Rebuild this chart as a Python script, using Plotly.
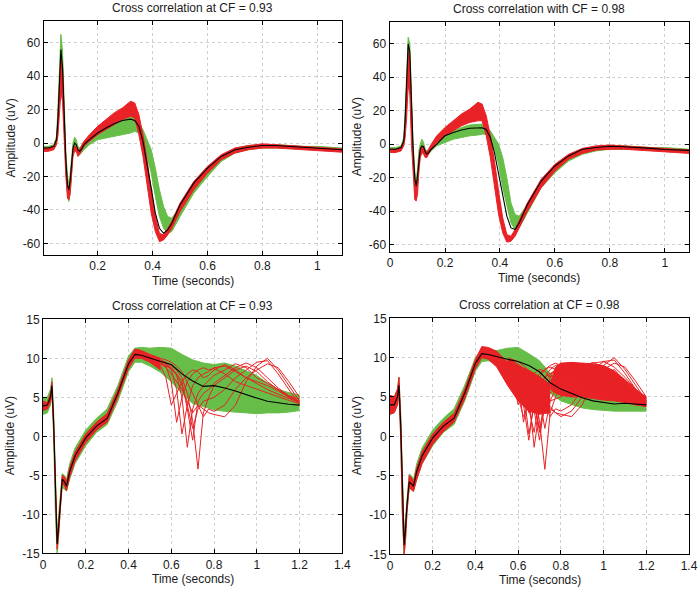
import plotly.graph_objects as go

# ---------------- DATA ----------------
# Top panels time grid (seconds)
t_top = [0.0, 0.02, 0.04, 0.05, 0.055, 0.06, 0.066, 0.072, 0.078, 0.084, 0.09, 0.095, 0.1, 0.105, 0.11,
         0.116, 0.122, 0.128, 0.134, 0.14, 0.15, 0.17, 0.2, 0.23, 0.26, 0.29, 0.32, 0.335, 0.35, 0.365,
         0.38, 0.395, 0.41, 0.425, 0.44, 0.455, 0.47, 0.5, 0.55, 0.6, 0.65, 0.7, 0.75, 0.8, 0.85, 0.9,
         0.95, 1.0, 1.05, 1.09]

# Top-left (CF = 0.93)
tl_mean = [-3, -3, -2, 2, 14, 35, 56, 45, 15, -10, -25, -28, -22, -10, -3,
           0, -1, -4, -5, -4, -1, 2, 6, 9, 11.5, 13.5, 14.3, 13.5, 10, 1,
           -12, -27, -42, -51, -54, -52, -48, -37, -24, -15, -8, -4, -2.5, -1.5, -1.5, -2,
           -2.5, -3, -3.5, -4]
tl_green_hi = [-2, -2, -1, 4, 20, 45, 65, 55, 22, -5, -20, -25, -18, -6, 0,
               3.5, 2, -2, -3, -2, 1, 4, 7, 10, 12, 14, 16, 16, 12, 8,
               2, -4, -15, -28, -38, -44, -45, -38, -26, -16, -8, -3, -1.5, -1, -1, -1.5,
               -2, -2, -2.5, -3]
tl_green_lo = [-4, -4, -3, 0, 8, 28, 50, 35, 8, -15, -30, -35, -30, -15, -6,
               -2, -3, -6, -7, -6, -4, -1, 2, 3, 4, 5, 6, 7, 6, 2,
               -8, -18, -32, -44, -51, -54, -53, -44, -30, -20, -11, -6, -4, -3, -3, -3,
               -3.5, -4, -4.5, -5]
tl_red_hi = [-3, -3, -2, 2, 12, 30, 52, 45, 15, -10, -25, -28, -22, -10, -4,
             -2, -2, -4, -4, -2, 1, 5, 10, 14, 18, 21, 25, 24, 17, 5,
             -10, -28, -44, -54, -55, -51, -47, -36, -23, -14, -7, -3, -1.5, -0.5, -1, -1.5,
             -2, -2.5, -3, -3.5]
tl_red_lo = [-5, -5, -4, -1, 4, 15, 30, 25, 0, -20, -33, -34, -30, -18, -8,
             -5, -5, -8, -7, -5, -2, 1, 5, 8, 11, 14, 16, 15, 5, -8,
             -25, -42, -53, -59, -58, -55, -51, -41, -28, -18, -10, -6, -4, -3, -3, -3.5,
             -4, -4.5, -5, -5.5]

# Top-right (CF = 0.98)
tr_mean = [-3, -3, -2, 2, 15, 38, 60, 55, 25, -3, -20, -25, -19, -8, -3,
           -1, -1.5, -4.5, -6, -5, -3, 0, 5, 7, 8.5, 9.5, 9.8, 9.8, 8.8, 4,
           -5, -17, -31, -43, -50, -51, -47, -36, -22, -13, -7, -3, -2, -1.2, -1.5, -1.8,
           -2.5, -3.2, -3.5, -3.7]
tr_green_hi = [-2, -2, -1, 4, 20, 45, 64, 60, 30, 0, -16, -22, -15, -4, 0,
               3, 1, -3, -4, -3, -1, 2, 6, 8, 10, 11.5, 12, 12, 10, 8,
               4, 0, -8, -20, -35, -42, -43, -36, -23, -14, -7, -3, -1.5, -1, -1, -1.5,
               -2, -2, -2.5, -3]
tr_green_lo = [-4, -4, -3, 0, 10, 30, 52, 45, 15, -8, -24, -28, -24, -12, -6,
               -2, -3, -6, -7, -6, -4, -1, 1, 3, 4, 5, 5.5, 6, 6, 4,
               -3, -12, -26, -37, -47, -51, -50, -41, -26, -17, -10, -6, -4, -3, -3, -3,
               -3.5, -4, -4.5, -5]
tr_red_hi = [-3, -3, -2, 2, 12, 30, 56, 50, 18, -8, -24, -27, -20, -8, -3,
             -1, -2, -4, -5, -3, 0, 5, 10, 14, 18, 21, 25, 24, 17, 5,
             -10, -28, -44, -54, -55, -51, -46, -35, -21, -12, -6, -2.5, -1, -0.5, -1, -1.5,
             -2, -2.5, -3, -3.5]
tr_red_lo = [-5, -5, -4, -1, 4, 15, 35, 30, 0, -20, -33, -34, -30, -16, -8,
             -5, -6, -8, -8, -6, -3, 1, 5, 8, 11, 13, 14, 14, 5, -8,
             -25, -42, -53, -58.5, -58, -55, -50, -40, -26, -16, -9, -5.5, -3.5, -3, -3, -3.5,
             -4, -4.5, -5, -5.5]

# Bottom panels time grid (seconds)
t_bot = [0.0, 0.02, 0.035, 0.042, 0.05, 0.058, 0.066, 0.072, 0.08, 0.09, 0.1, 0.11, 0.125, 0.15,
         0.2, 0.25, 0.3, 0.35, 0.4, 0.43, 0.46, 0.5, 0.55, 0.6, 0.65, 0.7, 0.75, 0.8, 0.85, 0.9,
         0.95, 1.0, 1.05, 1.1, 1.15, 1.2]

# Bottom-left (CF = 0.93)
bl_mean = [3.9, 4.0, 5.0, 6.5, 1.5, -8, -13.8, -12, -8.5, -5.5, -5.8, -6.4, -4.5, -2.5,
           -0.2, 1.3, 2.3, 5.5, 9.3, 10.5, 10.4, 10.0, 9.6, 9.2, 8.0, 7.1, 6.4, 6.5, 6.2, 5.8,
           5.3, 4.9, 4.5, 4.3, 4.1, 4.0]
bl_green_hi = [5, 5, 6, 7.5, 3, -6, -12.5, -10.5, -7.5, -4.8, -5, -5.5, -3.5, -1.5,
               0.8, 2.3, 3.5, 6.5, 10.3, 11.3, 11.4, 11.3, 11.4, 11.3, 10.5, 9.8, 9.4, 9.2, 9.4, 9.0,
               8.4, 7.8, 6.8, 6.0, 5.6, 5.3]
bl_green_lo = [2.8, 3, 4, 5.5, 0, -10, -15, -13.5, -9.5, -6.5, -6.8, -7, -5.5, -3.5,
               -1.2, 0.5, 1.5, 4.5, 8.3, 9.5, 9.5, 9.0, 8.2, 7.0, 5.5, 4.2, 3.8, 3.4, 3.2, 3.1,
               3.0, 2.9, 3.0, 3.0, 3.1, 3.3]
bl_red_hi = [4.5, 4.3, 5.5, 7.0, 2, -7.5, -13, -11.5, -8, -5, -5.2, -5.8, -4, -2,
             0.3, 1.8, 2.9, 6, 9.8, 11.2, 11, 10.5, 10]
bl_red_lo = [3.3, 3.5, 4.3, 5.8, 0.5, -9, -14.5, -13, -9.2, -6, -6.3, -7, -5.2, -3.2,
             -0.8, 0.8, 1.8, 5, 8.7, 10, 10, 9.5, 8.5]

# Individual red trials after 0.55 s
t_red = [0.55, 0.575, 0.6, 0.625, 0.65, 0.675, 0.7, 0.725, 0.75, 0.775, 0.8, 0.85, 0.9, 0.95,
         1.0, 1.05, 1.1, 1.15, 1.2]
red_trials_shared = [
    [9.5, 9, 7, 1.8, 5, 7, 8, 8.5, 8.8, 8.5, 8.7, 8, 7, 6.5, 6, 5.5, 5, 4.6, 4.2],
    [9.7, 9.3, 8.5, 6, 0.3, 4, 6.5, 7.5, 8, 8.3, 8.8, 9, 8.3, 7.5, 6.8, 6, 5.4, 4.8, 4.3],
    [9.2, 9, 8.7, 7.8, 5, -1.4, 3.5, 5.5, 6.5, 7.2, 7.8, 8.5, 9.3, 8.8, 7.5, 6.8, 6, 5, 4.5],
    [9.8, 9.5, 9, 8.5, 7.5, 5.5, 2, -4.2, 3, 5, 6.5, 7.5, 8.5, 9, 8.3, 7, 6, 5.2, 4.5],
    [9.3, 8.8, 8, 7, 6, 4.5, 3, 4, 3.5, 3, 2.8, 2.5, 4, 7, 9, 10, 8.5, 6.5, 4.5],
    [9.6, 9.4, 8.8, 8, 6.5, 4, 1, 3.5, 4.5, 4.8, 5, 6, 7.5, 8.5, 9.5, 9.7, 8, 6, 4],
    [9, 7.5, 4, 5.5, 7, 8, 8.5, 8.3, 7.5, 7.8, 8.5, 9.2, 8.5, 7.5, 7, 6.5, 5.8, 5, 4.3],
    [10, 9.8, 9.5, 9, 8.3, 7, 5.5, 4, 2.5, 3.5, 3.2, 4, 6, 7.5, 8.5, 9.3, 8.8, 7, 5],
    [9.4, 9.1, 8.6, 8, 7, 3.5, -0.5, 4.5, 5.5, 6, 6.8, 7.8, 8.8, 9.4, 8.8, 7.5, 6.2, 5.2, 4.8],
]

# Bottom-right (CF = 0.98)
br_mean = [4, 4, 5, 6.5, 1.5, -8, -13.8, -12, -8.5, -5.8, -6, -6.3, -4.5, -2.5,
           -0.2, 1.3, 2.3, 5.5, 9.3, 10.5, 10.4, 10.1, 9.8, 9.5, 9.0, 8.2, 6.8, 6.0, 5.4, 4.9,
           4.5, 4.3, 4.1, 4.2, 4.1, 4.0]
br_green_hi = [5.2, 5, 6, 7.5, 3, -6, -12.5, -10.5, -7.5, -4.8, -5, -5.5, -3.5, -1.5,
               0.8, 2.3, 3.5, 6.5, 10.0, 11.0, 11.0, 10.9, 11.2, 11.3, 10.5, 9.6, 8.0, 6.8, 6.0, 5.5,
               5.3, 5.1, 5.0, 5.0, 4.8, 4.7]
br_green_lo = [2.8, 3, 4, 5.5, 0, -10, -15, -13.5, -9.5, -6.5, -6.8, -7, -5.5, -3.5,
               -1.2, 0.5, 1.5, 4.5, 8.3, 9.5, 9.6, 9.3, 8.8, 8.3, 7.6, 6.5, 5.5, 4.5, 4.0, 3.6,
               3.4, 3.3, 3.2, 3.2, 3.2, 3.2]
# early red cluster (0 - 0.75 s)
br_red_hi = [5.2, 5, 6, 7.5, 2.5, -7, -13, -11.5, -8, -5, -5.2, -5.8, -4, -2,
             0.3, 1.8, 2.9, 6, 9.8, 11.4, 11.3, 10.8, 9.4, 9.0, 8.4, 7.6, 6.6]
br_red_lo = [2.8, 3, 4, 5.5, 0, -10, -15, -13.5, -9.5, -6.5, -6.8, -7, -5.5, -3.5,
             -1, 0.6, 1.8, 4.8, 8.6, 10, 9.8, 8.8, 6.5, 4.5, 3.2, 2.8, 3.0]
# late red cluster (0.75 - 1.2 s)
t_late = [0.75, 0.775, 0.8, 0.85, 0.9, 0.95, 1.0, 1.05, 1.1, 1.15, 1.2]
br_late_hi = [6.5, 8.8, 9.3, 9.4, 9.3, 9.2, 9.0, 8.3, 7.2, 6.0, 5.0]
br_late_lo = [6.0, 5.5, 5.2, 5.0, 5.0, 4.8, 4.6, 4.5, 4.3, 4.0, 3.8]
red_trials_extra = [
    [9, 8.5, 7.5, 4, -0.5, 4.5, 6.5, 7.5, 8.5, 9, 9.2, 8.8, 8.2, 7.5, 6.5, 5.5, 5, 4.5, 4.2],
    [9.5, 9.3, 8.8, 8.3, 7, 5, 0.5, 5, 7.5, 8.5, 9, 9.3, 9, 8, 7, 6, 5.3, 4.6, 4],
    [8.5, 7, 5, 2.5, 4, 6, 7.5, 8.5, 9, 9.3, 9, 8.5, 7.5, 6.5, 5.8, 5, 4.5, 4, 3.8],
    [9.6, 9.2, 8.3, 7, 5.5, 4, 3.5, 3, 3.8, 3, 2.5, 3.2, 5, 6.5, 7.8, 8.5, 7, 5.5, 4.2],
    [9.8, 9.6, 9.2, 8.6, 8, 7, 5, 1, 4.5, 6, 7.5, 8.5, 8.8, 8.5, 8.2, 7.8, 6.5, 5.5, 4.5],
    [9, 8.2, 6.8, 5.5, 3, 5, 6, 7, 7.8, 8.6, 9.3, 9, 8.7, 8.8, 8, 7, 6, 5, 4.4],
    [9.4, 9, 8.2, 6.5, 3.5, 0.5, 5, 6, 7, 8, 8.5, 9.2, 9.2, 8.7, 8.3, 7.2, 6.3, 5.3, 4.6],
    [9.7, 9.4, 8.5, 7.5, 6.5, 6, 5.5, 5.8, 6.5, 7.3, 8, 8.6, 9.1, 9.3, 9.5, 8.8, 7.5, 6, 4.8],
]

titles = ["Cross correlation at CF = 0.93", "Cross correlation with CF = 0.98",
          "Cross correlation at CF = 0.93", "Cross correlation at CF = 0.98"]
top_yticks = [-60, -40, -20, 0, 20, 40, 60]
bot_yticks = [-15, -10, -5, 0, 5, 10, 15]
top_xticks = [0, 0.2, 0.4, 0.6, 0.8, 1]
bot_xticks = [0, 0.2, 0.4, 0.6, 0.8, 1, 1.2, 1.4]

# ---------------- FIGURE ----------------
GREEN = "rgb(102,190,72)"
RED = "rgb(232,34,38)"
FONT = "Liberation Sans, Arial, sans-serif"
W, H = 700, 590

fig = go.Figure()


def line(x, y, color, ax, width=1.0):
    fig.add_trace(go.Scatter(x=x, y=y, mode="lines", line=dict(color=color, width=width),
                             xaxis="x" + ax, yaxis="y" + ax, showlegend=False, hoverinfo="skip"))


def band(x, lo, hi, color, ax):
    n = len(lo)
    line(x[:n], lo, color, ax, 1.0)
    fig.add_trace(go.Scatter(x=x[:n], y=hi, mode="lines", line=dict(color=color, width=1.0),
                             fill="tonexty", fillcolor=color,
                             xaxis="x" + ax, yaxis="y" + ax, showlegend=False, hoverinfo="skip"))


# top-left
band(t_top, tl_green_lo, tl_green_hi, GREEN, "")
band(t_top, tl_red_lo, tl_red_hi, RED, "")
line(t_top, tl_mean, "black", "", 1.1)
# top-right
band(t_top, tr_green_lo, tr_green_hi, GREEN, "2")
band(t_top, tr_red_lo, tr_red_hi, RED, "2")
line(t_top, tr_mean, "black", "2", 1.1)
# bottom-left
band(t_bot, bl_green_lo, bl_green_hi, GREEN, "3")
band(t_bot, bl_red_lo, bl_red_hi, RED, "3")
for tr in red_trials_shared:
    line(t_red, tr, RED, "3", 1.0)
line(t_bot, bl_mean, "black", "3", 1.1)
# bottom-right
band(t_bot, br_green_lo, br_green_hi, GREEN, "4")
band(t_bot, br_red_lo, br_red_hi, RED, "4")
band(t_late, br_late_lo, br_late_hi, RED, "4")
for tr in red_trials_shared + red_trials_extra:
    line(t_red, tr, RED, "4", 1.0)
line(t_bot, br_mean, "black", "4", 1.1)

# panel rectangles in page pixels: (left, right, top, bottom)
panels = [(43.6, 342.0, 21.0, 255.0), (389.5, 689.0, 21.5, 252.0),
          (43.0, 342.3, 319.3, 553.3), (390.0, 689.0, 318.3, 554.3)]
xranges = [[0.003, 1.09], [-0.002, 1.088], [0, 1.4], [0, 1.4]]
yranges = [[-67, 73], [-64.4, 73.3], [-15, 15], [-15, 15]]
xticks = [top_xticks, top_xticks, bot_xticks, bot_xticks]
yticks = [top_yticks, top_yticks, bot_yticks, bot_yticks]

axis_style = dict(showline=True, linecolor="black", linewidth=1, mirror="ticks", ticks="inside",
                  ticklen=4, tickcolor="black", showgrid=True, gridcolor="#cfcfcf", griddash="dot",
                  gridwidth=1, zeroline=False, automargin=False,
                  tickfont=dict(family=FONT, size=12, color="#1a1a1a"))


def px(x):
    return x / W


def py(y):
    return 1 - y / H


annotations = []
for i, (l, r, t, b) in enumerate(panels):
    sfx = "" if i == 0 else str(i + 1)
    xa = dict(axis_style, domain=[px(l), px(r)], range=xranges[i], tickvals=xticks[i],
              ticktext=[("%g" % v) for v in xticks[i]], anchor="y" + sfx)
    ya = dict(axis_style, domain=[py(b), py(t)], range=yranges[i], tickvals=yticks[i],
              ticktext=[("%g" % v) for v in yticks[i]], anchor="x" + sfx)
    fig.update_layout(**{"xaxis" + sfx: xa, "yaxis" + sfx: ya})
    cx = (l + r) / 2
    annotations.append(dict(text=titles[i], x=px(cx), y=py(t - 13), xref="paper", yref="paper",
                            showarrow=False, font=dict(family=FONT, size=12, color="#1a1a1a"),
                            xanchor="center", yanchor="middle"))
    annotations.append(dict(text="Time (seconds)", x=px(cx), y=py(b + 26), xref="paper",
                            yref="paper", showarrow=False,
                            font=dict(family=FONT, size=12, color="#1a1a1a"),
                            xanchor="center", yanchor="middle"))
    annotations.append(dict(text="Amplitude (uV)", x=px(l - 33), y=py((t + b) / 2),
                            xref="paper", yref="paper", showarrow=False, textangle=-90,
                            font=dict(family=FONT, size=12, color="#1a1a1a"),
                            xanchor="center", yanchor="middle"))

fig.update_layout(width=W, height=H, margin=dict(l=0, r=0, t=0, b=0, autoexpand=False),
                  paper_bgcolor="white", plot_bgcolor="white", showlegend=False,
                  annotations=annotations)

fig.write_html("out.html", config={"displayModeBar": False},
               post_script="document.body.style.margin='0';document.body.style.overflow='hidden';")
